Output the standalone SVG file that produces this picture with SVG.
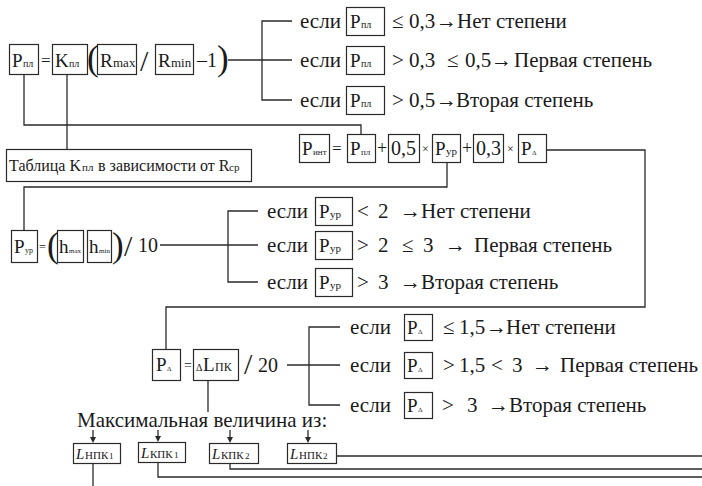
<svg xmlns="http://www.w3.org/2000/svg" width="702" height="486" viewBox="0 0 702 486">
  <rect width="702" height="486" fill="#ffffff"/>

  <!-- connectors -->
  <g id="connectors" fill="none" stroke="#2a2a2a" stroke-width="1.3">
    <polyline points="24,74 24,125 361,125 361,134"/>
    <polyline points="67,74 67,149"/>
    <polyline points="228,60 292,60"/>
    <polyline points="292,21 262,21 262,100 292,100"/>
    <polyline points="447,162 447,187 24,187 24,230"/>
    <polyline points="546,150 645,150 645,307 166,307 166,349"/>
    <polyline points="160,245 258,245"/>
    <polyline points="258,211 228,211 228,282 258,282"/>
    <polyline points="287,365 340,365"/>
    <polyline points="340,327 309,327 309,405 340,405"/>
    <polyline points="208,381 208,412"/>
    <line x1="93" y1="430" x2="93" y2="438"/>
    <line x1="158" y1="430" x2="158" y2="437"/>
    <line x1="230" y1="430" x2="230" y2="438"/>
    <line x1="308" y1="430" x2="308" y2="438"/>
    <polyline points="93,463 93,486"/>
    <polyline points="336,456 702,456"/>
    <polyline points="230,463 230,469 702,469"/>
    <polyline points="158,463 158,477 702,477"/>
  </g>
  <g id="arrowheads" fill="#2a2a2a">
    <polygon points="90,437 96,437 93,443"/>
    <polygon points="155,436 161,436 158,442"/>
    <polygon points="227,437 233,437 230,443"/>
    <polygon points="305,437 311,437 308,443"/>
  </g>

  <!-- boxes -->
  <g id="boxes" fill="#ffffff" stroke="#2a2a2a" stroke-width="1.2">
    <rect x="9.5" y="44.5" width="29" height="30"/>
    <rect x="52.5" y="44.5" width="35" height="30"/>
    <rect x="97.5" y="44.5" width="39" height="30"/>
    <rect x="155.5" y="44.5" width="38" height="30"/>
    <rect x="346.5" y="7.5" width="38" height="28"/>
    <rect x="346.5" y="46.5" width="38" height="28"/>
    <rect x="346.5" y="86.5" width="38" height="28"/>
    <rect x="6.5" y="149.5" width="245" height="32"/>
    <rect x="299.5" y="134.5" width="30" height="28"/>
    <rect x="347.5" y="134.5" width="28" height="28"/>
    <rect x="388.5" y="134.5" width="31" height="28"/>
    <rect x="432.5" y="134.5" width="28" height="28"/>
    <rect x="473.5" y="134.5" width="30" height="28"/>
    <rect x="518.5" y="134.5" width="28" height="28"/>
    <rect x="11.5" y="230.5" width="26" height="32"/>
    <rect x="57.5" y="230.5" width="26" height="32"/>
    <rect x="87.5" y="230.5" width="24" height="32"/>
    <rect x="315.5" y="197.5" width="37" height="28"/>
    <rect x="315.5" y="231.5" width="37" height="28"/>
    <rect x="315.5" y="268.5" width="37" height="28"/>
    <rect x="152.5" y="349.5" width="28" height="31"/>
    <rect x="193.5" y="349.5" width="45" height="31"/>
    <rect x="404.5" y="314.5" width="28" height="26"/>
    <rect x="404.5" y="352.5" width="28" height="26"/>
    <rect x="404.5" y="392.5" width="28" height="26"/>
    <rect x="73.5" y="443.5" width="47" height="20"/>
    <rect x="138.5" y="442.5" width="47" height="20"/>
    <rect x="209.5" y="443.5" width="49" height="20"/>
    <rect x="287.5" y="443.5" width="49" height="20"/>
  </g>

  <!-- Pпл = Kпл (Rmax / Rmin - 1) -->
  <g id="f-ppl" fill="#1a1a1a">
    <text x="12" y="67" font-family="Liberation Serif" font-size="19">P</text>
    <text x="23" y="67" font-family="Liberation Serif" font-size="10">пл</text>
    <text x="41" y="66" font-family="Liberation Serif" font-size="17">=</text>
    <text x="87" y="70" font-family="Liberation Serif" font-size="35">(</text>
    <text x="55" y="67" font-family="Liberation Serif" font-size="19">K</text>
    <text x="69" y="67" font-family="Liberation Serif" font-size="10">пл</text>
    <text x="100" y="67" font-family="Liberation Serif" font-size="19">R</text>
    <text x="113" y="67" font-family="Liberation Serif" font-size="13">max</text>
    <text x="140" y="71" font-family="Liberation Serif" font-size="30">/</text>
    <text x="158" y="67" font-family="Liberation Serif" font-size="19">R</text>
    <text x="171" y="67" font-family="Liberation Serif" font-size="13">min</text>
    <text x="197" y="67" font-family="Liberation Serif" font-size="20">‒1</text>
    <text x="217" y="70" font-family="Liberation Serif" font-size="35">)</text>
  </g>

  <!-- branch 1 conditions -->
  <g id="c1" fill="#1a1a1a">
    <text x="300" y="28" font-family="Liberation Serif" font-size="21">если</text>
    <text x="350" y="28" font-family="Liberation Serif" font-size="19">P</text>
    <text x="361" y="28" font-family="Liberation Serif" font-size="10">пл</text>
    <text x="392" y="28" font-family="Liberation Serif" font-size="21">≤</text>
    <text x="409" y="28" font-family="Liberation Serif" font-size="21">0,3</text>
    <text x="436" y="28" font-family="Liberation Serif" font-size="21">→</text>
    <text x="457" y="28" font-family="Liberation Serif" font-size="21">Нет степени</text>
  </g>
  <g id="c2" fill="#1a1a1a">
    <text x="300" y="67" font-family="Liberation Serif" font-size="21">если</text>
    <text x="350" y="67" font-family="Liberation Serif" font-size="19">P</text>
    <text x="361" y="67" font-family="Liberation Serif" font-size="10">пл</text>
    <text x="392" y="67" font-family="Liberation Serif" font-size="21">&gt;</text>
    <text x="409" y="67" font-family="Liberation Serif" font-size="21">0,3</text>
    <text x="447" y="67" font-family="Liberation Serif" font-size="21">≤</text>
    <text x="465" y="67" font-family="Liberation Serif" font-size="21">0,5</text>
    <text x="491" y="67" font-family="Liberation Serif" font-size="21">→</text>
    <text x="514" y="67" font-family="Liberation Serif" font-size="21">Первая степень</text>
  </g>
  <g id="c3" fill="#1a1a1a">
    <text x="300" y="107" font-family="Liberation Serif" font-size="21">если</text>
    <text x="350" y="107" font-family="Liberation Serif" font-size="19">P</text>
    <text x="361" y="107" font-family="Liberation Serif" font-size="10">пл</text>
    <text x="392" y="107" font-family="Liberation Serif" font-size="21">&gt;</text>
    <text x="409" y="107" font-family="Liberation Serif" font-size="21">0,5</text>
    <text x="436" y="107" font-family="Liberation Serif" font-size="21">→</text>
    <text x="456" y="107" font-family="Liberation Serif" font-size="21">Вторая степень</text>
  </g>

  <!-- table note -->
  <g id="table" fill="#1a1a1a">
    <text x="9" y="171" font-family="Liberation Serif" font-size="16">Таблица K</text>
    <text x="82" y="171" font-family="Liberation Serif" font-size="11">пл</text>
    <text x="98" y="171" font-family="Liberation Serif" font-size="16">в зависимости от R</text>
    <text x="229" y="171" font-family="Liberation Serif" font-size="11">ср</text>
  </g>

  <!-- Pинт = Pпл + 0,5 × Pур + 0,3 × PΔ -->
  <g id="f-pint" fill="#1a1a1a">
    <text x="302" y="155" font-family="Liberation Serif" font-size="19">P</text>
    <text x="313" y="155" font-family="Liberation Serif" font-size="9">инт</text>
    <text x="332" y="154" font-family="Liberation Serif" font-size="17">=</text>
    <text x="350" y="155" font-family="Liberation Serif" font-size="19">P</text>
    <text x="361" y="155" font-family="Liberation Serif" font-size="9">пл</text>
    <text x="377" y="154" font-family="Liberation Serif" font-size="18">+</text>
    <text x="391" y="155" font-family="Liberation Serif" font-size="20">0,5</text>
    <text x="422" y="153" font-family="Liberation Serif" font-size="12">×</text>
    <text x="435" y="155" font-family="Liberation Serif" font-size="19">P</text>
    <text x="446" y="155" font-family="Liberation Serif" font-size="11">ур</text>
    <text x="462" y="154" font-family="Liberation Serif" font-size="18">+</text>
    <text x="476" y="155" font-family="Liberation Serif" font-size="20">0,3</text>
    <text x="507" y="153" font-family="Liberation Serif" font-size="12">×</text>
    <text x="521" y="155" font-family="Liberation Serif" font-size="19">P</text>
    <text x="532" y="155" font-family="Liberation Serif" font-size="7">Δ</text>
  </g>

  <!-- Pур = (hmax hmin) / 10 -->
  <g id="f-pur" fill="#1a1a1a">
    <text x="14" y="253" font-family="Liberation Serif" font-size="19">P</text>
    <text x="25" y="253" font-family="Liberation Serif" font-size="8">ур</text>
    <text x="39" y="251" font-family="Liberation Serif" font-size="12">=</text>
    <text x="47" y="257" font-family="Liberation Serif" font-size="35">(</text>
    <text x="59" y="253" font-family="Liberation Serif" font-size="19">h</text>
    <text x="69" y="253" font-family="Liberation Serif" font-size="7">max</text>
    <text x="89" y="253" font-family="Liberation Serif" font-size="19">h</text>
    <text x="99" y="253" font-family="Liberation Serif" font-size="7">min</text>
    <text x="112" y="257" font-family="Liberation Serif" font-size="35">)</text>
    <text x="124" y="256" font-family="Liberation Serif" font-size="30">/</text>
    <text x="138" y="252" font-family="Liberation Serif" font-size="20">10</text>
  </g>

  <!-- branch 2 conditions -->
  <g id="c4" fill="#1a1a1a">
    <text x="267" y="218" font-family="Liberation Serif" font-size="21">если</text>
    <text x="319" y="218" font-family="Liberation Serif" font-size="19">P</text>
    <text x="330" y="218" font-family="Liberation Serif" font-size="11">ур</text>
    <text x="357" y="218" font-family="Liberation Serif" font-size="21">&lt;</text>
    <text x="378" y="218" font-family="Liberation Serif" font-size="21">2</text>
    <text x="400" y="218" font-family="Liberation Serif" font-size="21">→</text>
    <text x="421" y="218" font-family="Liberation Serif" font-size="21">Нет степени</text>
  </g>
  <g id="c5" fill="#1a1a1a">
    <text x="267" y="252" font-family="Liberation Serif" font-size="21">если</text>
    <text x="319" y="252" font-family="Liberation Serif" font-size="19">P</text>
    <text x="330" y="252" font-family="Liberation Serif" font-size="11">ур</text>
    <text x="357" y="252" font-family="Liberation Serif" font-size="21">&gt;</text>
    <text x="378" y="252" font-family="Liberation Serif" font-size="21">2</text>
    <text x="402" y="252" font-family="Liberation Serif" font-size="21">≤</text>
    <text x="423" y="252" font-family="Liberation Serif" font-size="21">3</text>
    <text x="445" y="252" font-family="Liberation Serif" font-size="21">→</text>
    <text x="474" y="252" font-family="Liberation Serif" font-size="21">Первая степень</text>
  </g>
  <g id="c6" fill="#1a1a1a">
    <text x="267" y="289" font-family="Liberation Serif" font-size="21">если</text>
    <text x="319" y="289" font-family="Liberation Serif" font-size="19">P</text>
    <text x="330" y="289" font-family="Liberation Serif" font-size="11">ур</text>
    <text x="357" y="289" font-family="Liberation Serif" font-size="21">&gt;</text>
    <text x="378" y="289" font-family="Liberation Serif" font-size="21">3</text>
    <text x="400" y="289" font-family="Liberation Serif" font-size="21">→</text>
    <text x="421" y="289" font-family="Liberation Serif" font-size="21">Вторая степень</text>
  </g>

  <!-- PΔ = ΔLпк / 20 -->
  <g id="f-pd" fill="#1a1a1a">
    <text x="156" y="371" font-family="Liberation Serif" font-size="19">P</text>
    <text x="167" y="371" font-family="Liberation Serif" font-size="7">Δ</text>
    <text x="184" y="370" font-family="Liberation Serif" font-size="14">=</text>
    <text x="196" y="371" font-family="Liberation Serif" font-size="10">Δ</text>
    <text x="203" y="371" font-family="Liberation Serif" font-size="19">L</text>
    <text x="215" y="371" font-family="Liberation Serif" font-size="12">ПК</text>
    <text x="244" y="374" font-family="Liberation Serif" font-size="30">/</text>
    <text x="258" y="372" font-family="Liberation Serif" font-size="20">20</text>
  </g>

  <!-- branch 3 conditions -->
  <g id="c7" fill="#1a1a1a">
    <text x="350" y="334" font-family="Liberation Serif" font-size="21">если</text>
    <text x="407" y="334" font-family="Liberation Serif" font-size="19">P</text>
    <text x="418" y="334" font-family="Liberation Serif" font-size="7">Δ</text>
    <text x="443" y="334" font-family="Liberation Serif" font-size="21">≤</text>
    <text x="459" y="334" font-family="Liberation Serif" font-size="21">1,5</text>
    <text x="486" y="334" font-family="Liberation Serif" font-size="21">→</text>
    <text x="506" y="334" font-family="Liberation Serif" font-size="21">Нет степени</text>
  </g>
  <g id="c8" fill="#1a1a1a">
    <text x="350" y="372" font-family="Liberation Serif" font-size="21">если</text>
    <text x="407" y="372" font-family="Liberation Serif" font-size="19">P</text>
    <text x="418" y="372" font-family="Liberation Serif" font-size="7">Δ</text>
    <text x="443" y="372" font-family="Liberation Serif" font-size="21">&gt;</text>
    <text x="459" y="372" font-family="Liberation Serif" font-size="21">1,5</text>
    <text x="491" y="372" font-family="Liberation Serif" font-size="21">&lt;</text>
    <text x="512" y="372" font-family="Liberation Serif" font-size="21">3</text>
    <text x="532" y="372" font-family="Liberation Serif" font-size="21">→</text>
    <text x="560" y="372" font-family="Liberation Serif" font-size="21">Первая степень</text>
  </g>
  <g id="c9" fill="#1a1a1a">
    <text x="350" y="412" font-family="Liberation Serif" font-size="21">если</text>
    <text x="407" y="412" font-family="Liberation Serif" font-size="19">P</text>
    <text x="418" y="412" font-family="Liberation Serif" font-size="7">Δ</text>
    <text x="442" y="412" font-family="Liberation Serif" font-size="21">&gt;</text>
    <text x="467" y="412" font-family="Liberation Serif" font-size="21">3</text>
    <text x="488" y="412" font-family="Liberation Serif" font-size="21">→</text>
    <text x="509" y="412" font-family="Liberation Serif" font-size="21">Вторая степень</text>
  </g>

  <!-- maximum of the four lengths -->
  <g id="max" fill="#1a1a1a">
    <text x="77" y="427" font-family="Liberation Serif" font-size="21">Максимальная величина из:</text>
  </g>
  <g id="l-npk1" fill="#1a1a1a">
    <text x="76" y="459" font-family="Liberation Serif" font-size="15" font-style="italic">L</text>
    <text x="85" y="459" font-family="Liberation Serif" font-size="11">НПК</text>
    <text x="109" y="459" font-family="Liberation Serif" font-size="9">1</text>
  </g>
  <g id="l-kpk1" fill="#1a1a1a">
    <text x="141" y="458" font-family="Liberation Serif" font-size="15" font-style="italic">L</text>
    <text x="150" y="458" font-family="Liberation Serif" font-size="11">КПК</text>
    <text x="174" y="458" font-family="Liberation Serif" font-size="9">1</text>
  </g>
  <g id="l-kpk2" fill="#1a1a1a">
    <text x="212" y="459" font-family="Liberation Serif" font-size="15" font-style="italic">L</text>
    <text x="221" y="459" font-family="Liberation Serif" font-size="11">КПК</text>
    <text x="245" y="459" font-family="Liberation Serif" font-size="9">2</text>
  </g>
  <g id="l-npk2" fill="#1a1a1a">
    <text x="290" y="459" font-family="Liberation Serif" font-size="15" font-style="italic">L</text>
    <text x="299" y="459" font-family="Liberation Serif" font-size="11">НПК</text>
    <text x="323" y="459" font-family="Liberation Serif" font-size="9">2</text>
  </g>
</svg>
